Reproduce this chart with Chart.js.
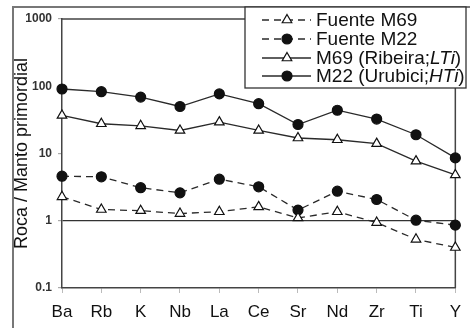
<!DOCTYPE html>
<html>
<head>
<meta charset="utf-8">
<script src="https://cdn.jsdelivr.net/npm/chart.js@4"></script>
<style>
  html, body { margin: 0; padding: 0; background: #fff; }
  #wrap { width: 470px; height: 328px; position: relative; }
</style>
</head>
<body>
<div id="wrap"><canvas id="chart"></canvas></div>
<script>
// Data
const elements = ['Ba', 'Rb', 'K', 'Nb', 'La', 'Ce', 'Sr', 'Nd', 'Zr', 'Ti', 'Y'];
const fuenteM69 = [2.27, 1.47, 1.41, 1.28, 1.36, 1.61, 1.1, 1.36, 0.94, 0.53, 0.40];
const fuenteM22 = [4.6, 4.5, 3.1, 2.6, 4.15, 3.2, 1.44, 2.75, 2.07, 1.02, 0.86];
const m69Ribeira = [36.8, 27.7, 25.8, 22, 29.3, 22, 17, 16, 14, 7.7, 4.8];
const m22Urubici = [91, 83, 69, 50, 77, 55, 27, 44, 32.5, 19, 8.6];
const yTicks = [0.1, 1, 10, 100, 1000];

// legend labels: [normal, italic, normal]
const legendParts = [
    ['Fuente M69', '', ''],
    ['Fuente M22', '', ''],
    ['M69 (Ribeira;', 'LTi', ')'],
    ['M22 (Urubici;', 'HTi', ')']
];

const FONT = "'Liberation Sans', Arial, sans-serif";
const INK = '#2a2a2a';

function series(data, dashed, shape) {
    return {
        data: data,
        borderColor: INK,
        borderWidth: 1.3,
        borderDash: dashed ? [7, 5] : [],
        pointStyle: shape,
        pointRadius: shape === 'triangle' ? 5.5 : 5,
        pointBorderWidth: 1.2,
        pointBorderColor: '#111',
        pointBackgroundColor: shape === 'triangle' ? '#fff' : '#111',
        tension: 0
    };
}

// frame, plot box and hand-drawn legend
const decorPlugin = {
    id: 'decor',
    beforeDraw(chart) {
        const c = chart.ctx;
        c.save();
        c.strokeStyle = '#777';
        c.lineWidth = 2;
        c.beginPath();
        c.moveTo(13, 340);
        c.lineTo(13, 7);
        c.lineTo(480, 7);
        c.stroke();
        c.restore();
    },
    beforeDatasetsDraw(chart) {
        const a = chart.chartArea;
        const c = chart.ctx;
        c.save();
        c.strokeStyle = '#444';
        c.lineWidth = 1.5;
        c.beginPath();
        c.moveTo(a.left, a.top);
        c.lineTo(a.right, a.top);
        c.lineTo(a.right, a.bottom);
        c.stroke();
        c.restore();
    },
    afterDraw(chart) {
        const c = chart.ctx;
        const bx = 245, by = 7, bw = 221, bh = 81;
        c.save();
        c.fillStyle = '#fff';
        c.fillRect(bx, by, bw, bh);
        c.strokeStyle = '#333';
        c.lineWidth = 1.3;
        c.strokeRect(bx, by, bw, bh);

        const rows = [20, 39, 58, 76];
        chart.data.datasets.forEach((ds, i) => {
            const y = rows[i];
            c.strokeStyle = ds.borderColor;
            c.lineWidth = ds.borderWidth;
            c.setLineDash(ds.borderDash);
            c.beginPath();
            c.moveTo(262, y);
            c.lineTo(311, y);
            c.stroke();
            c.setLineDash([]);

            // marker in the middle of the sample line
            c.fillStyle = ds.pointBackgroundColor;
            c.strokeStyle = ds.pointBorderColor;
            c.lineWidth = ds.pointBorderWidth;
            c.beginPath();
            if (ds.pointStyle === 'triangle') {
                const r = ds.pointRadius;
                c.moveTo(287, y - r);
                c.lineTo(287 + r * 0.866, y + r * 0.5);
                c.lineTo(287 - r * 0.866, y + r * 0.5);
                c.closePath();
            } else {
                c.arc(287, y, ds.pointRadius, 0, Math.PI * 2);
            }
            c.fill();
            c.stroke();

            const p = legendParts[i];
            c.fillStyle = '#111';
            c.textBaseline = 'middle';
            let x = 316;
            c.font = '19px ' + FONT;
            c.fillText(p[0], x, y + 1);
            x += c.measureText(p[0]).width;
            if (p[1]) {
                c.font = 'italic 19px ' + FONT;
                c.fillText(p[1], x, y + 1);
                x += c.measureText(p[1]).width;
                c.font = '19px ' + FONT;
                c.fillText(p[2], x, y + 1);
            }
        });
        c.restore();
    }
};

new Chart(document.getElementById('chart'), {
    type: 'line',
    data: {
        labels: elements,
        datasets: [
            series(fuenteM69, true, 'triangle'),
            series(fuenteM22, true, 'circle'),
            series(m69Ribeira, false, 'triangle'),
            series(m22Urubici, false, 'circle')
        ]
    },
    options: {
        responsive: true,
        maintainAspectRatio: false,
        animation: false,
        layout: { padding: { left: 11, top: 19, right: 9, bottom: 0 } },
        plugins: {
            legend: { display: false },
            tooltip: { enabled: false }
        },
        scales: {
            x: {
                offset: false,
                grid: {
                    drawOnChartArea: false,
                    tickColor: '#bbb',
                    tickLength: 5
                },
                border: { color: '#444', width: 1.5 },
                ticks: {
                    color: '#111',
                    font: { family: FONT, size: 17 },
                    padding: 9,
                    maxRotation: 0,
                    autoSkip: false
                },
                afterFit(scale) { scale.height = 40; }
            },
            y: {
                type: 'logarithmic',
                min: 0.1,
                max: 1000,
                afterBuildTicks(scale) {
                    scale.ticks = yTicks.map(v => ({ value: v }));
                },
                grid: {
                    color: ctx => (ctx.tick && ctx.tick.value === 1) ? '#333' : 'rgba(0,0,0,0)',
                    lineWidth: 1.2,
                    tickColor: '#aaa',
                    tickLength: 4
                },
                border: { color: '#444', width: 1.5 },
                ticks: {
                    color: '#333',
                    font: { family: FONT, size: 12, weight: 'bold' },
                    padding: 6,
                    callback: v => String(v)
                },
                title: {
                    display: true,
                    text: 'Roca / Manto primordial',
                    color: '#111',
                    font: { family: FONT, size: 18 },
                    padding: { top: 0, bottom: 0 }
                },
                afterFit(scale) { scale.width = 51; }
            }
        }
    },
    plugins: [decorPlugin]
});
</script>
</body>
</html>
